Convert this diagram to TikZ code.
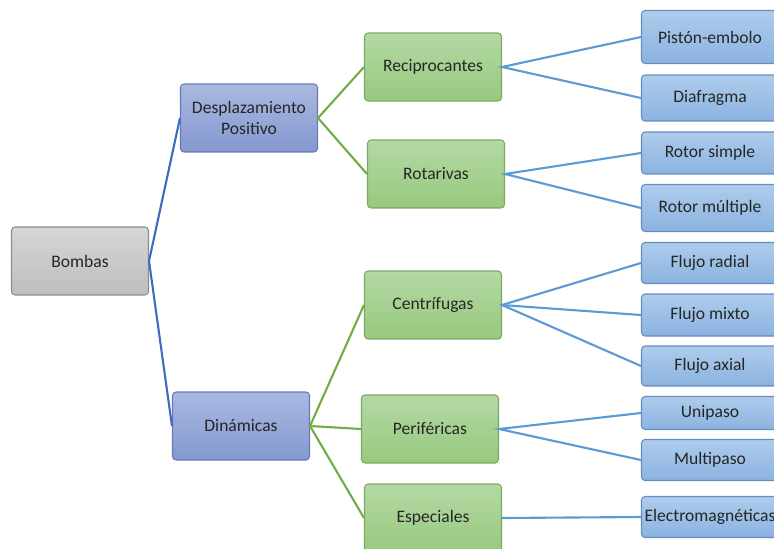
\documentclass[tikz,border=0pt]{standalone}
\usepackage{fontspec}
\setmainfont{Carlito}
\usetikzlibrary{positioning}
\definecolor{bbgraytop}{RGB}{214,214,214}
\definecolor{bbgraybot}{RGB}{190,190,190}
\definecolor{bbgrayline}{RGB}{140,140,140}
\definecolor{bbpurtop}{RGB}{170,184,225}
\definecolor{bbpurbot}{RGB}{132,152,208}
\definecolor{bbpurline}{RGB}{105,122,178}
\definecolor{bbgrntop}{RGB}{180,217,164}
\definecolor{bbgrnbot}{RGB}{152,200,126}
\definecolor{bbgrnline}{RGB}{122,170,98}
\definecolor{bbbluetop}{RGB}{174,204,236}
\definecolor{bbbluebot}{RGB}{139,179,224}
\definecolor{bbblueline}{RGB}{104,140,190}
\definecolor{lnkdark}{RGB}{62,107,191}
\definecolor{lnkgreen}{RGB}{112,173,71}
\definecolor{lnklight}{RGB}{91,155,213}

\begin{document}
\begin{tikzpicture}[
  x=0.02cm,y=-0.02cm,
  cbox/.style={rounded corners=2pt,font=\fontsize{10}{12}\selectfont,align=center,
    text=black!85,minimum width=2.74cm,minimum height=1.36cm,inner sep=1pt,line width=0.6pt},
  rootbox/.style={cbox,draw=bbgrayline,top color=bbgraytop,bottom color=bbgraybot},
  typebox/.style={cbox,draw=bbpurline,top color=bbpurtop,bottom color=bbpurbot},
  classbox/.style={cbox,draw=bbgrnline,top color=bbgrntop,bottom color=bbgrnbot},
  leafbox/.style={cbox,draw=bbblueline,top color=bbbluetop,bottom color=bbbluebot},
  lnk/.style={line width=1.2pt}
]
  \clip (0,0) rectangle (774,548);
  % Root and first level
  \node[rootbox] (bombas) at (80,261) {Bombas};
  \node[typebox] (desp) at (249,118) {Desplazamiento\\Positivo};
  \node[typebox] (dina) at (241,426) {Din\'amicas};
  % Second level
  \node[classbox] (recip) at (433,67) {Reciprocantes};
  \node[classbox] (rotar) at (436,174) {Rotarivas};
  \node[classbox] (centr) at (433,305) {Centr\'ifugas};
  \node[classbox] (perif) at (430,429) {Perif\'ericas};
  \node[classbox] (espec) at (433,518) {Especiales};
  % Leaves
  \node[leafbox,minimum height=1.06cm] (piston) at (710,37) {Pist\'on-embolo};
  \node[leafbox,minimum height=0.92cm] (diafr) at (710,98) {Diafragma};
  \node[leafbox,minimum height=0.84cm] (rsimp) at (710,153) {Rotor simple};
  \node[leafbox,minimum height=0.94cm] (rmult) at (710,208) {Rotor m\'ultiple};
  \node[leafbox,minimum height=0.82cm] (fradial) at (710,263) {Flujo radial};
  \node[leafbox,minimum height=0.84cm] (fmixto) at (710,315) {Flujo mixto};
  \node[leafbox,minimum height=0.80cm] (faxial) at (710,366) {Flujo axial};
  \node[leafbox,minimum height=0.66cm] (unip) at (710,413) {Unipaso};
  \node[leafbox,minimum height=0.82cm] (multip) at (710,460) {Multipaso};
  \node[leafbox,minimum height=0.82cm] (electro) at (710,517) {Electromagn\'eticas};
  % Connectors
  \draw[lnk,lnkdark] (desp.west) -- (bombas.east) -- (dina.west);
  \draw[lnk,lnkgreen] (recip.west) -- (desp.east) -- (rotar.west);
  \draw[lnk,lnkgreen] (centr.west) -- (dina.east) -- (perif.west);
  \draw[lnk,lnkgreen] (dina.east) -- (espec.west);
  \draw[lnk,lnklight] (piston.west) -- (recip.east) -- (diafr.west);
  \draw[lnk,lnklight] (rsimp.west) -- (rotar.east) -- (rmult.west);
  \draw[lnk,lnklight] (fradial.west) -- (centr.east) -- (faxial.west);
  \draw[lnk,lnklight] (centr.east) -- (fmixto.west);
  \draw[lnk,lnklight] (unip.west) -- (perif.east) -- (multip.west);
  \draw[lnk,lnklight] (espec.east) -- (electro.west);
\end{tikzpicture}
\end{document}
